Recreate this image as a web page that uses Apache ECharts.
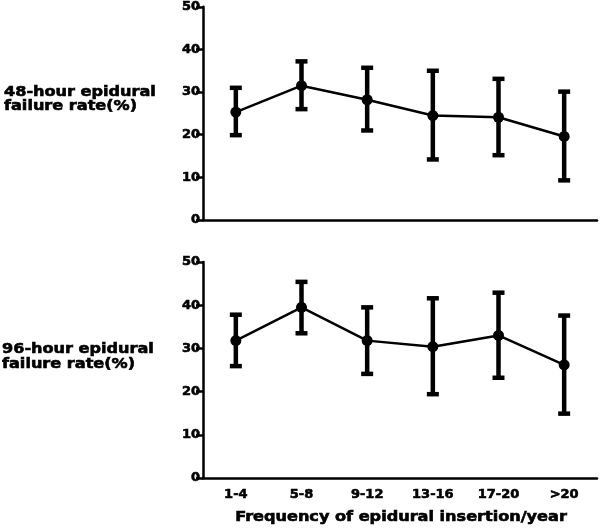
<!DOCTYPE html>
<html><head><meta charset="utf-8">
<script src="https://cdn.jsdelivr.net/npm/echarts@6/dist/echarts.min.js"></script>
<style>html,body{margin:0;padding:0;background:#fff}#c{width:600px;height:528px}</style>
</head><body><div id="c"></div>
<script>
const categories = ['1-4','5-8','9-12','13-16','17-20','>20'];
const mean48 = [25.3, 31.5, 28.2, 24.5, 24.1, 19.6];
const low48  = [19.9, 26.0, 21.0, 14.2, 15.2, 9.3];
const high48 = [31.0, 37.2, 35.7, 35.0, 33.1, 30.1];
const mean96 = [31.8, 39.5, 31.8, 30.4, 33.0, 26.2];
const low96  = [25.9, 33.5, 24.1, 19.4, 23.2, 14.9];
const high96 = [37.8, 45.4, 39.5, 41.6, 42.9, 37.6];
const yTicks = [0, 10, 20, 30, 40, 50];

const FONT = '"DejaVu Sans", Verdana, sans-serif';
const chart = echarts.init(document.getElementById('c'), null, {renderer:'canvas'});

function errItem(params, api) {
  const x = api.value(0);
  const lo = api.coord([x, api.value(1)]);
  const hi = api.coord([x, api.value(2)]);
  const hw = 6;
  const st = {stroke:'#000', lineWidth:4.5};
  return {type:'group', children:[
    {type:'line', shape:{x1:lo[0], y1:lo[1], x2:hi[0], y2:hi[1]}, style:st},
    {type:'line', shape:{x1:lo[0]-hw, y1:lo[1], x2:lo[0]+hw, y2:lo[1]}, style:st},
    {type:'line', shape:{x1:hi[0]-hw, y1:hi[1], x2:hi[0]+hw, y2:hi[1]}, style:st}
  ]};
}

const axisLineStyle = {lineStyle:{color:'#000', width:2.5}};
const labelCommon = {color:'#000', fontFamily:FONT, fontWeight:'bold', fontSize:13,
  textBorderColor:'#000', textBorderWidth:0.6};
function xAxis(idx, showLabels) {
  return {type:'category', gridIndex:idx, data:categories, boundaryGap:true,
    axisLine:axisLineStyle,
    axisTick:{alignWithLabel:true, length:6, lineStyle:{color:'#000', width:2.5}},
    axisLabel:Object.assign({show:showLabels, margin:10}, labelCommon),
    splitLine:{show:false}};
}
function yAxis(idx) {
  return {type:'value', gridIndex:idx, min:yTicks[0], max:yTicks[yTicks.length-1], interval:10,
    axisLine:{show:true, lineStyle:{color:'#000', width:2.5}},
    axisTick:{show:true, length:7, lineStyle:{color:'#000', width:2.5}},
    axisLabel:Object.assign({margin:3}, labelCommon),
    splitLine:{show:false}};
}

function txt(t, x, y, align) {
  return {type:'text', x:x, y:y, scaleX:1.15,
    style:{text:t, x:0, y:0, fill:'#000', stroke:'#000', lineWidth:0.6,
      font:'bold 14px '+FONT, align:align||'left', verticalAlign:'middle'}};
}

chart.setOption({
  animation:false,
  backgroundColor:'#fff',
  grid:[
    {left:203, top:6, width:394, height:214},
    {left:203, top:262, width:394, height:216}
  ],
  xAxis:[xAxis(0,false), xAxis(1,true)],
  yAxis:[yAxis(0), yAxis(1)],
  graphic:[
    txt('48-hour epidural', 4, 92),
    txt('failure rate(%)', 4, 106.5),
    txt('96-hour epidural', 2, 349.5),
    txt('failure rate(%)', 2, 364.5),
    txt('Frequency of epidural insertion/year', 401, 517, 'center')
  ],
  series:[
    {type:'custom', xAxisIndex:0, yAxisIndex:0, renderItem:errItem,
     data:categories.map((c,i)=>[i, low48[i], high48[i]]), z:2},
    {type:'line', xAxisIndex:0, yAxisIndex:0, data:mean48, symbol:'circle', symbolSize:11,
     lineStyle:{color:'#000', width:2.5}, itemStyle:{color:'#000'}, z:3},
    {type:'custom', xAxisIndex:1, yAxisIndex:1, renderItem:errItem,
     data:categories.map((c,i)=>[i, low96[i], high96[i]]), z:2},
    {type:'line', xAxisIndex:1, yAxisIndex:1, data:mean96, symbol:'circle', symbolSize:11,
     lineStyle:{color:'#000', width:2.5}, itemStyle:{color:'#000'}, z:3}
  ]
});
</script></body></html>
